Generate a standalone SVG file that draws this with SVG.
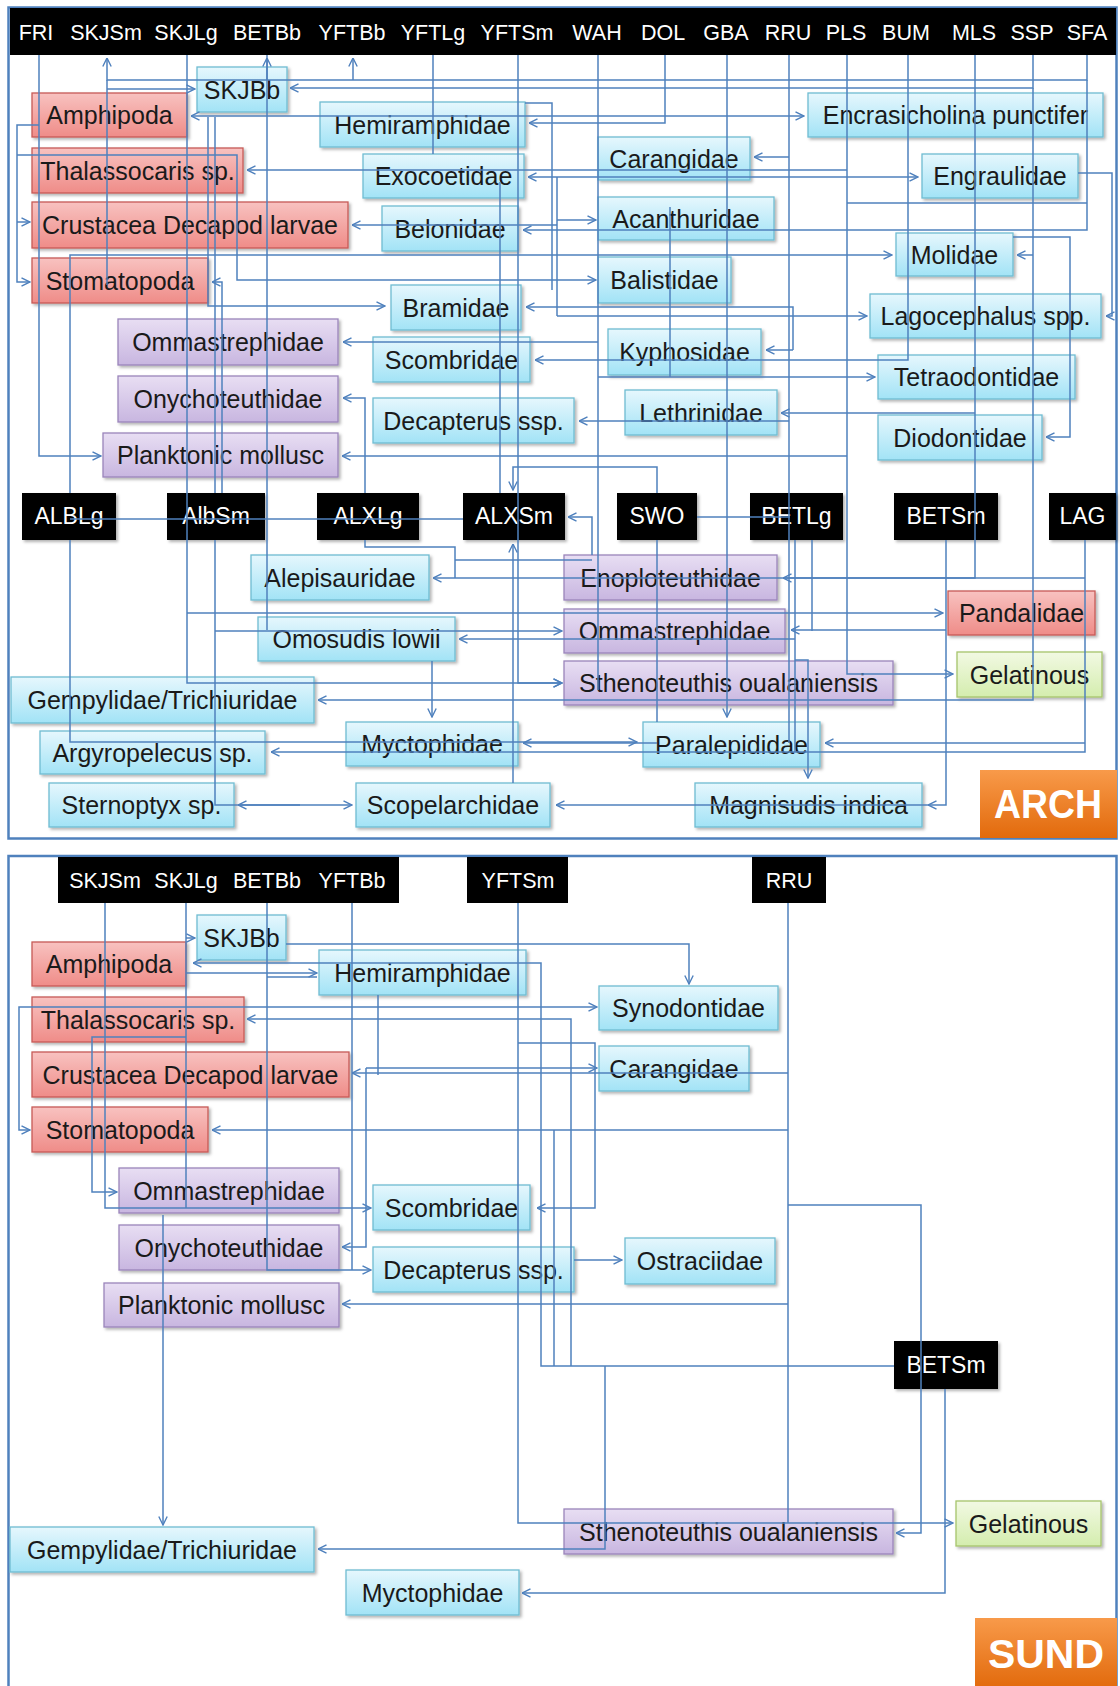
<svg xmlns="http://www.w3.org/2000/svg" width="1120" height="1686" viewBox="0 0 1120 1686">
<defs>
<linearGradient id="gb" x1="0" y1="0" x2="0" y2="1"><stop offset="0" stop-color="#e6f7fd"/><stop offset="1" stop-color="#a2e3f6"/></linearGradient>
<linearGradient id="gr" x1="0" y1="0" x2="0" y2="1"><stop offset="0" stop-color="#f8c2c0"/><stop offset="1" stop-color="#ef8c88"/></linearGradient>
<linearGradient id="gp" x1="0" y1="0" x2="0" y2="1"><stop offset="0" stop-color="#e8def3"/><stop offset="1" stop-color="#c8b6e0"/></linearGradient>
<linearGradient id="gg" x1="0" y1="0" x2="0" y2="1"><stop offset="0" stop-color="#f2f9e3"/><stop offset="1" stop-color="#d4edae"/></linearGradient>
<linearGradient id="go" x1="0" y1="0" x2="0" y2="1"><stop offset="0" stop-color="#f89a4a"/><stop offset="1" stop-color="#e26a0c"/></linearGradient>
<filter id="sh" x="-10%" y="-20%" width="130%" height="150%"><feDropShadow dx="2" dy="2" stdDeviation="1.5" flood-color="#000" flood-opacity="0.3"/></filter>
<marker id="ar" viewBox="0 0 10 10" refX="9.5" refY="5" markerWidth="10" markerHeight="10" markerUnits="userSpaceOnUse" orient="auto"><path d="M1,0.8 L9.5,5 L1,9.2" fill="none" stroke="#4f81bd" stroke-width="1.4"/></marker>
<style>
text{font-family:"Liberation Sans",Arial,sans-serif}
.nd text{font-size:25px;fill:#1a1a1a;text-anchor:middle}
.nd rect{filter:url(#sh);stroke-width:1.3}
.b rect{fill:url(#gb);stroke:#6fbcd2}
.r rect{fill:url(#gr);stroke:#c65a56}
.p rect{fill:url(#gp);stroke:#9a85bb}
.g rect{fill:url(#gg);stroke:#a6c46c}
.k rect{fill:#000;stroke:none}
.k text{fill:#fff;font-size:23px;text-anchor:middle}
.hd text{fill:#fff;font-size:21.5px;text-anchor:middle}
.lab text{fill:#fff;font-size:40px;font-weight:bold;text-anchor:middle}
.c path{fill:none;stroke:#4f81bd;stroke-width:1.5}
.c path.a{marker-end:url(#ar)}
.frame{fill:#fff;stroke:#4f81bd;stroke-width:2.5}
</style>
</defs>
<rect x="0" y="0" width="1120" height="1686" fill="#fff"/>
<rect class="frame" x="8.5" y="7.5" width="1108" height="831"/>
<rect class="frame" x="8.5" y="856" width="1108" height="840"/>

<!-- ===== ARCH panel ===== -->
<g id="arch-header" class="hd">
<rect x="10" y="8" width="1106" height="47" fill="#000"/>
<text x="36" y="40">FRI</text><text x="106" y="40">SKJSm</text><text x="186" y="40">SKJLg</text><text x="267" y="40">BETBb</text><text x="352" y="40">YFTBb</text><text x="433" y="40">YFTLg</text><text x="517" y="40">YFTSm</text><text x="597" y="40">WAH</text><text x="663" y="40">DOL</text><text x="726" y="40">GBA</text><text x="788" y="40">RRU</text><text x="846" y="40">PLS</text><text x="906" y="40">BUM</text><text x="974" y="40">MLS</text><text x="1032" y="40">SSP</text><text x="1087" y="40">SFA</text>
</g>

<g id="a-amphipoda" class="nd r"><rect x="32" y="93" width="155" height="44"/><text x="109.5" y="124">Amphipoda</text></g>
<g id="a-thalassocaris" class="nd r"><rect x="32" y="148" width="211" height="45"/><text x="137.5" y="179.5">Thalassocaris sp.</text></g>
<g id="a-crustacea" class="nd r"><rect x="32" y="202" width="316" height="46"/><text x="190" y="234">Crustacea Decapod larvae</text></g>
<g id="a-stomatopoda" class="nd r"><rect x="32" y="258" width="176" height="45"/><text x="120" y="289.5">Stomatopoda</text></g>
<g id="a-pandalidae" class="nd r"><rect x="948" y="591" width="147" height="44"/><text x="1021.5" y="622">Pandalidae</text></g>
<g id="a-skjbb" class="nd b"><rect x="197" y="67" width="90" height="45"/><text x="242" y="98.5">SKJBb</text></g>
<g id="a-hemiramphidae" class="nd b"><rect x="320" y="102" width="205" height="45"/><text x="422.5" y="133.5">Hemiramphidae</text></g>
<g id="a-exocoetidae" class="nd b"><rect x="363" y="154" width="161" height="44"/><text x="443.5" y="185">Exocoetidae</text></g>
<g id="a-belonidae" class="nd b"><rect x="382" y="206" width="136" height="45"/><text x="450" y="237.5">Belonidae</text></g>
<g id="a-bramidae" class="nd b"><rect x="391" y="285" width="130" height="45"/><text x="456" y="316.5">Bramidae</text></g>
<g id="a-scombridae" class="nd b"><rect x="373" y="337" width="157" height="45"/><text x="451.5" y="368.5">Scombridae</text></g>
<g id="a-decapterus" class="nd b"><rect x="373" y="398" width="201" height="45"/><text x="473.5" y="429.5">Decapterus ssp.</text></g>
<g id="a-carangidae" class="nd b"><rect x="598" y="137" width="152" height="43"/><text x="674" y="167.5">Carangidae</text></g>
<g id="a-acanthuridae" class="nd b"><rect x="598" y="197" width="176" height="43"/><text x="686" y="227.5">Acanthuridae</text></g>
<g id="a-balistidae" class="nd b"><rect x="598" y="257" width="133" height="46"/><text x="664.5" y="289">Balistidae</text></g>
<g id="a-kyphosidae" class="nd b"><rect x="608" y="329" width="153" height="46"/><text x="684.5" y="361">Kyphosidae</text></g>
<g id="a-lethrinidae" class="nd b"><rect x="625" y="390" width="152" height="45"/><text x="701" y="421.5">Lethrinidae</text></g>
<g id="a-encrasicholina" class="nd b"><rect x="808" y="93" width="295" height="44"/><text x="955.5" y="124">Encrasicholina punctifer</text></g>
<g id="a-engraulidae" class="nd b"><rect x="922" y="154" width="156" height="44"/><text x="1000" y="185">Engraulidae</text></g>
<g id="a-molidae" class="nd b"><rect x="896" y="233" width="117" height="43"/><text x="954.5" y="263.5">Molidae</text></g>
<g id="a-lagocephalus" class="nd b"><rect x="870" y="294" width="231" height="44"/><text x="985.5" y="325">Lagocephalus spp.</text></g>
<g id="a-tetraodontidae" class="nd b"><rect x="878" y="355" width="197" height="44"/><text x="976.5" y="386">Tetraodontidae</text></g>
<g id="a-diodontidae" class="nd b"><rect x="878" y="415" width="164" height="45"/><text x="960" y="446.5">Diodontidae</text></g>
<g id="a-alepisauridae" class="nd b"><rect x="251" y="555" width="178" height="45"/><text x="340" y="586.5">Alepisauridae</text></g>
<g id="a-omosudis" class="nd b"><rect x="258" y="617" width="197" height="44"/><text x="356.5" y="648">Omosudis lowii</text></g>
<g id="a-gempylidae" class="nd b"><rect x="11" y="677" width="303" height="46"/><text x="162.5" y="709">Gempylidae/Trichiuridae</text></g>
<g id="a-argyropelecus" class="nd b"><rect x="40" y="731" width="225" height="43"/><text x="152.5" y="761.5">Argyropelecus sp.</text></g>
<g id="a-sternoptyx" class="nd b"><rect x="49" y="783" width="185" height="44"/><text x="141.5" y="814">Sternoptyx sp.</text></g>
<g id="a-myctophidae" class="nd b"><rect x="346" y="722" width="172" height="44"/><text x="432" y="753">Myctophidae</text></g>
<g id="a-paralepididae" class="nd b"><rect x="643" y="722" width="177" height="45"/><text x="731.5" y="753.5">Paralepididae</text></g>
<g id="a-scopelarchidae" class="nd b"><rect x="356" y="783" width="194" height="44"/><text x="453" y="814">Scopelarchidae</text></g>
<g id="a-magnisudis" class="nd b"><rect x="695" y="783" width="227" height="44"/><text x="808.5" y="814">Magnisudis indica</text></g>
<g id="a-ommastrephidae" class="nd p"><rect x="118" y="319" width="220" height="46"/><text x="228" y="351">Ommastrephidae</text></g>
<g id="a-onychoteuthidae" class="nd p"><rect x="118" y="376" width="220" height="46"/><text x="228" y="408">Onychoteuthidae</text></g>
<g id="a-planktonic" class="nd p"><rect x="103" y="433" width="235" height="44"/><text x="220.5" y="464">Planktonic mollusc</text></g>
<g id="a-enoploteuthidae" class="nd p"><rect x="564" y="555" width="213" height="45"/><text x="670.5" y="586.5">Enoploteuthidae</text></g>
<g id="a-ommastrephidae2" class="nd p"><rect x="564" y="609" width="221" height="44"/><text x="674.5" y="640">Ommastrephidae</text></g>
<g id="a-sthenoteuthis" class="nd p"><rect x="564" y="661" width="329" height="44"/><text x="728.5" y="692">Sthenoteuthis oualaniensis</text></g>
<g id="a-gelatinous" class="nd g"><rect x="957" y="652" width="145" height="45"/><text x="1029.5" y="683.5">Gelatinous</text></g>
<g id="a-alblg" class="nd k"><rect x="22" y="493" width="94" height="47"/><text x="69" y="524">ALBLg</text></g>
<g id="a-albsm" class="nd k"><rect x="167" y="493" width="98" height="47"/><text x="216" y="524">AlbSm</text></g>
<g id="a-alxlg" class="nd k"><rect x="317" y="493" width="102" height="47"/><text x="368" y="524">ALXLg</text></g>
<g id="a-alxsm" class="nd k"><rect x="463" y="493" width="102" height="47"/><text x="514" y="524">ALXSm</text></g>
<g id="a-swo" class="nd k"><rect x="617" y="493" width="80" height="47"/><text x="657" y="524">SWO</text></g>
<g id="a-betlg" class="nd k"><rect x="750" y="493" width="93" height="47"/><text x="796.5" y="524">BETLg</text></g>
<g id="a-betsm" class="nd k"><rect x="894" y="493" width="104" height="47"/><text x="946" y="524">BETSm</text></g>
<g id="a-lag" class="nd k"><rect x="1049" y="493" width="67" height="47"/><text x="1082.5" y="524">LAG</text></g>
<g id="arch-label" class="lab"><rect x="980" y="770" width="137" height="68" fill="url(#go)"/><text x="1048" y="818" textLength="108" lengthAdjust="spacingAndGlyphs">ARCH</text></g>

<g id="arch-connectors" class="c">
<path class="a" d="M39,55 V456 H101"/>
<path class="a" d="M39,125 H17 V282 H30"/>
<path class="a" d="M17,222 H30"/>
<path class="a" d="M17,155 H237 V280 H596"/>
<path class="a" d="M1087,55 V80 H107 V58"/>
<path class="a" d="M267,80 V58"/>
<path class="a" d="M353,80 V58"/>
<path d="M107,80 V285"/>
<path class="a" d="M107,89 H195"/>
<path class="a" d="M1033,55 V88 H290"/>
<path class="a" d="M1033,88 V700 H318"/>
<path class="a" d="M1033,255 H1017"/>
<path class="a" d="M665,55 V123 H529"/>
<path class="a" d="M665,116 H191"/>
<path class="a" d="M665,116 H804"/>
<path d="M789,55 V743"/>
<path class="a" d="M789,157 H754"/>
<path class="a" d="M789,177 H528"/>
<path class="a" d="M789,177 H918"/>
<path class="a" d="M789,421 H579"/>
<path class="a" d="M847,55 V674 H953"/>
<path class="a" d="M847,170 H247"/>
<path class="a" d="M847,456 H342"/>
<path d="M847,203 H1087"/>
<path class="a" d="M1087,80 V230 H523"/>
<path d="M557,177 V316"/>
<path class="a" d="M557,225 H352"/>
<path class="a" d="M557,220 H596"/>
<path class="a" d="M557,316 H867"/>
<path class="a" d="M70,493 V255 H892"/>
<path class="a" d="M1013,237 H1070 V437 H1046"/>
<path class="a" d="M793,350 H766"/>
<path class="a" d="M793,350 V307 H526"/>
<path class="a" d="M1078,173 H1112 V316 H1106"/>
<path class="a" d="M908,55 V360 H535"/>
<path d="M598,55 V690"/>
<path class="a" d="M598,377 H875"/>
<path class="a" d="M598,342 H343"/>
<path d="M670,207 V377"/>
<path class="a" d="M975,55 V578 H783"/>
<path class="a" d="M975,413 H781"/>
<path class="a" d="M975,578 H433"/>
<path class="a" d="M1085,540 V752 H271"/>
<path d="M1085,578 H975"/>
<path class="a" d="M1085,743 H825"/>
<path class="a" d="M946,540 V805 H928"/>
<path class="a" d="M928,805 H556"/>
<path class="a" d="M946,630 H791"/>
<path class="a" d="M215,540 V805 H352"/>
<path class="a" d="M300,805 H238"/>
<path class="a" d="M432,661 V717"/>
<path d="M795,540 V752"/>
<path class="a" d="M795,639 H459"/>
<path class="a" d="M795,660 H808 V778"/>
<path d="M812,540 V631"/>
<path class="a" d="M187,55 V683 H562"/>
<path class="a" d="M187,613 H943"/>
<path d="M215,493 V117"/>
<path class="a" d="M222,493 V282 H212"/>
<path class="a" d="M208,117 V306 H385"/>
<path class="a" d="M215,631 H562"/>
<path d="M267,55 V630"/>
<path class="a" d="M70,540 V742 H637"/>
<path class="a" d="M657,743 H523"/>
<path class="a" d="M518,55 V683 H562"/>
<path class="a" d="M657,493 V467 H513 V490"/>
<path d="M657,540 V722"/>
<path class="a" d="M513,783 V544"/>
<path class="a" d="M592,555 V517 H568"/>
<path d="M70,519 H463"/>
<path d="M697,517 H790"/>
<path class="a" d="M365,493 V398 H343"/>
<path d="M365,540 V547 H455 V578"/>
<path d="M455,560 H592"/>
<path class="a" d="M727,55 V717"/>
<path d="M433,55 V154"/>
<path d="M500,493 V182"/>
<path d="M525,103 H552 V290"/>
</g>

<!-- ===== SUND panel ===== -->
<g id="sund-header" class="hd">
<rect x="58" y="857" width="341" height="46" fill="#000"/>
<text x="105" y="888">SKJSm</text><text x="186" y="888">SKJLg</text><text x="267" y="888">BETBb</text><text x="352" y="888">YFTBb</text>
</g>
<g id="s-yftsm" class="hd"><rect x="467" y="857" width="101" height="46" fill="#000"/><text x="518" y="888">YFTSm</text></g>
<g id="s-rru" class="hd"><rect x="752" y="857" width="74" height="46" fill="#000"/><text x="789" y="888">RRU</text></g>

<g id="s-skjbb" class="nd b"><rect x="197" y="915" width="89" height="45"/><text x="241.5" y="946.5">SKJBb</text></g>
<g id="s-amphipoda" class="nd r"><rect x="32" y="942" width="154" height="44"/><text x="109" y="973">Amphipoda</text></g>
<g id="s-hemiramphidae" class="nd b"><rect x="319" y="950" width="207" height="45"/><text x="422.5" y="981.5">Hemiramphidae</text></g>
<g id="s-thalassocaris" class="nd r"><rect x="32" y="997" width="212" height="45"/><text x="138" y="1028.5">Thalassocaris sp.</text></g>
<g id="s-crustacea" class="nd r"><rect x="32" y="1052" width="317" height="45"/><text x="190.5" y="1083.5">Crustacea Decapod larvae</text></g>
<g id="s-stomatopoda" class="nd r"><rect x="32" y="1107" width="176" height="45"/><text x="120" y="1138.5">Stomatopoda</text></g>
<g id="s-ommastrephidae" class="nd p"><rect x="119" y="1168" width="220" height="45"/><text x="229" y="1199.5">Ommastrephidae</text></g>
<g id="s-onychoteuthidae" class="nd p"><rect x="119" y="1225" width="220" height="45"/><text x="229" y="1256.5">Onychoteuthidae</text></g>
<g id="s-planktonic" class="nd p"><rect x="104" y="1283" width="235" height="44"/><text x="221.5" y="1314">Planktonic mollusc</text></g>
<g id="s-synodontidae" class="nd b"><rect x="599" y="986" width="179" height="44"/><text x="688.5" y="1017">Synodontidae</text></g>
<g id="s-carangidae" class="nd b"><rect x="599" y="1046" width="150" height="45"/><text x="674" y="1077.5">Carangidae</text></g>
<g id="s-scombridae" class="nd b"><rect x="373" y="1185" width="157" height="45"/><text x="451.5" y="1216.5">Scombridae</text></g>
<g id="s-decapterus" class="nd b"><rect x="373" y="1247" width="201" height="45"/><text x="473.5" y="1278.5">Decapterus ssp.</text></g>
<g id="s-ostraciidae" class="nd b"><rect x="625" y="1238" width="150" height="46"/><text x="700" y="1270">Ostraciidae</text></g>
<g id="s-betsm" class="nd k"><rect x="894" y="1341" width="104" height="48"/><text x="946" y="1373">BETSm</text></g>
<g id="s-sthenoteuthis" class="nd p"><rect x="564" y="1509" width="329" height="45"/><text x="728.5" y="1540.5">Sthenoteuthis oualaniensis</text></g>
<g id="s-gelatinous" class="nd g"><rect x="956" y="1501" width="145" height="45"/><text x="1028.5" y="1532.5">Gelatinous</text></g>
<g id="s-gempylidae" class="nd b"><rect x="10" y="1527" width="304" height="45"/><text x="162" y="1558.5">Gempylidae/Trichiuridae</text></g>
<g id="s-myctophidae" class="nd b"><rect x="346" y="1570" width="173" height="45"/><text x="432.5" y="1601.5">Myctophidae</text></g>
<g id="sund-label" class="lab"><rect x="975" y="1618" width="142" height="70" fill="url(#go)"/><text x="1046" y="1668" textLength="116" lengthAdjust="spacingAndGlyphs">SUND</text></g>

<g id="sund-connectors" class="c">
<path class="a" d="M105,903 V1208 H371"/>
<path d="M186,903 V1208"/>
<path class="a" d="M186,938 H195"/>
<path class="a" d="M186,973 H317"/>
<path class="a" d="M267,903 V1270 H371"/>
<path d="M267,977 H317"/>
<path d="M352,903 V1270"/>
<path class="a" d="M518,903 V1523 H953"/>
<path class="a" d="M518,1007 H597"/>
<path class="a" d="M518,1007 H19 V1130 H30"/>
<path class="a" d="M518,1043 H595 V1208 H537"/>
<path class="a" d="M286,944 H689 V984"/>
<path class="a" d="M894,1366 H541 V963 H193"/>
<path d="M554,1366 V1130"/>
<path class="a" d="M788,1130 H212"/>
<path class="a" d="M571,1366 V1019 H247"/>
<path d="M788,903 V1523"/>
<path class="a" d="M788,1073 H352"/>
<path d="M378,995 V1075"/>
<path class="a" d="M366,1068 H597"/>
<path class="a" d="M366,1068 V1247 H342"/>
<path class="a" d="M186,1037 H92 V1192 H117"/>
<path class="a" d="M163,1215 V1525"/>
<path class="a" d="M788,1304 H342"/>
<path class="a" d="M788,1205 H921 V1533 H896"/>
<path class="a" d="M945,1389 V1593 H522"/>
<path class="a" d="M605,1366 V1549 H318"/>
<path class="a" d="M574,1260 H622"/>
</g>
</svg>
